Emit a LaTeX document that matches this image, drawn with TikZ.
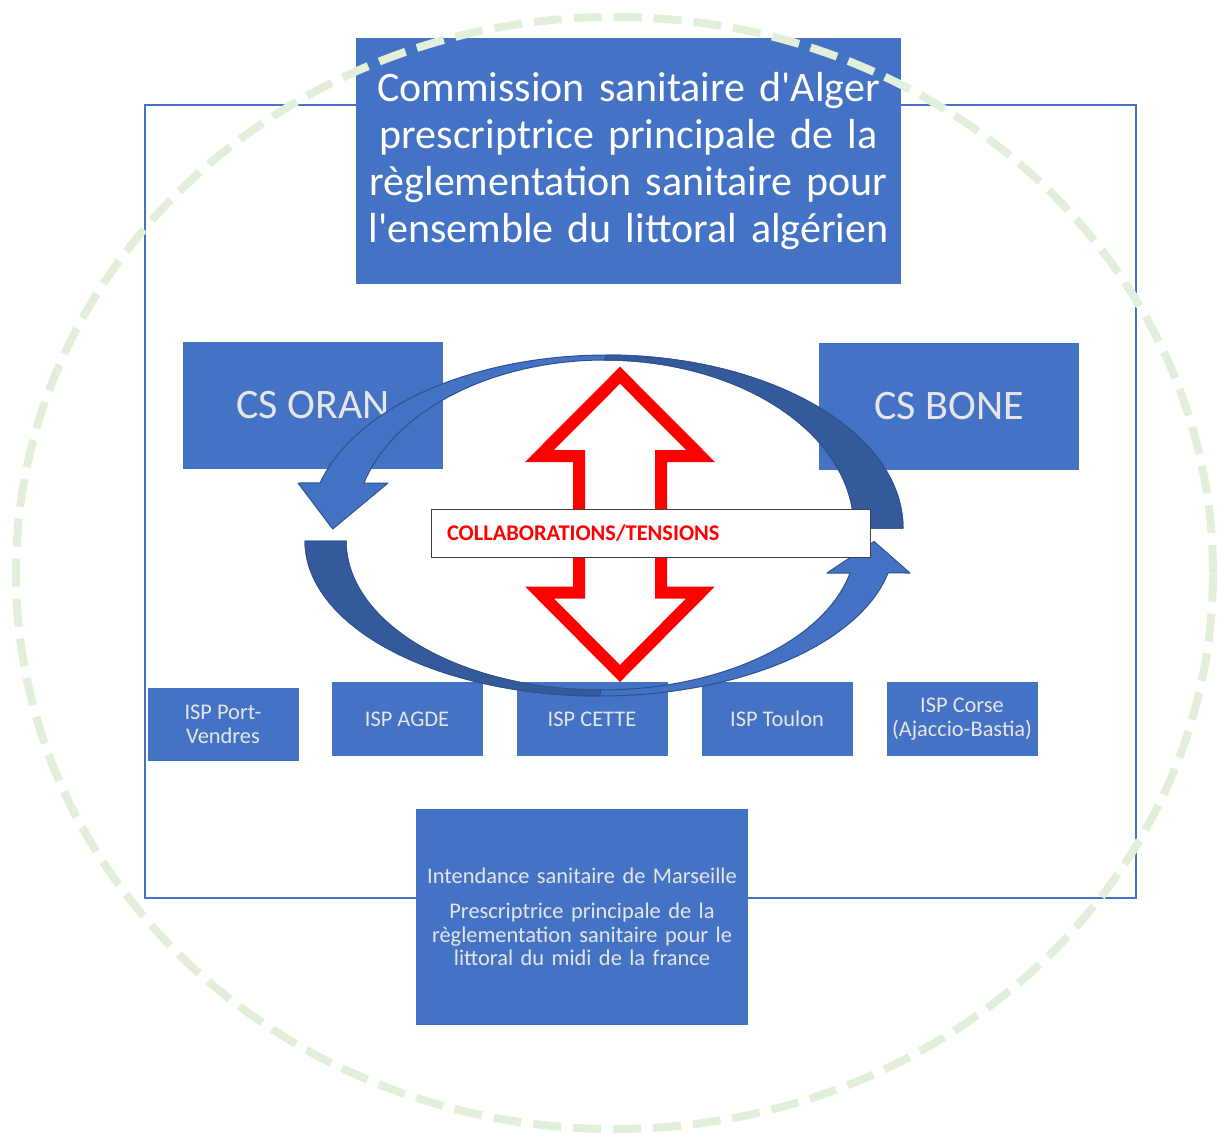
\documentclass[tikz,border=0pt]{standalone}
\usepackage{fontspec}
\setmainfont{Carlito}[Ligatures=TeXOff]
\definecolor{boxblue}{HTML}{4472C4}
\definecolor{darkblue}{HTML}{345A9B}
\definecolor{edgeblue}{HTML}{2F528F}
\definecolor{softgreen}{HTML}{E2EFDA}
\definecolor{palegray}{HTML}{E7E6E6}
\definecolor{framegray}{HTML}{404040}
\definecolor{alarmred}{HTML}{FF0000}
\begin{document}
\begin{tikzpicture}[x=1pt,y=-1pt,
  bluebox/.style={fill=boxblue, inner sep=0pt, align=center},
  ispbox/.style={bluebox, minimum width=151pt, minimum height=74pt, text=palegray, font=\fontsize{22.4}{24}\selectfont},
  csbox/.style={bluebox, minimum width=260pt, minimum height=127pt, text=palegray, font=\fontsize{42}{50}\selectfont},
  lightband/.style={fill=boxblue, draw=edgeblue, line width=1pt, line join=round},
  darkband/.style={fill=darkblue, draw=edgeblue, line width=1pt, line join=round},
  outerframe/.style={draw=boxblue, line width=1.6pt},
  dashring/.style={draw=softgreen, line width=8pt, dash pattern=on 28pt off 12pt},
  redoutline/.style={draw=alarmred, line width=12pt, line join=miter}
]
\useasboundingbox (0,0) rectangle (1220,1135);

% outer frame
\draw[outerframe] (145,105) rectangle (1136,898);

% top box
\node[bluebox, minimum width=545pt, minimum height=246pt, text=white, text width=540pt,
      font=\fontsize{42}{47}\selectfont] (alger) at (628.5,161)
  {Commission sanitaire d'Alger\\ prescriptrice principale de la\\ règlementation sanitaire pour\\ l'ensemble du littoral algérien};

% dashed ring
\draw[dashring] (614.5,573) ellipse [x radius=598.5pt, y radius=556pt];

% CS boxes
\node[csbox] (oran) at (313,405.5) {CS ORAN};
\node[csbox] (bone) at (949,406) {CS BONE};

% ISP boxes
\node[ispbox, minimum height=73pt] (portvendres) at (223,724) {ISP Port-\\Vendres};
\node[ispbox] (agde) at (407,719) {ISP AGDE};
\node[ispbox] (cette) at (592,719) {ISP CETTE};
\node[ispbox] (toulon) at (777,719) {ISP Toulon};
\node[ispbox] (corse) at (962,719) {ISP Corse\\(Ajaccio-Bastia)};

% Marseille box
\node[bluebox, minimum width=332pt, minimum height=216pt, text=palegray, text width=330pt,
      font=\fontsize{22.4}{23.5}\selectfont] (marseille) at (582,917)
  {Intendance sanitaire de Marseille\\[11.5pt] Prescriptrice principale de la\\ règlementation sanitaire pour le\\ littoral du midi de la france};

% top curved arrow (towards Oran side)
\path[lightband]
  plot[domain=195.1:360, samples=80, variable=\t] ({606.4+296.6*cos(\t)},{528+173*sin(\t)})
  -- plot[domain=0:164.5, samples=80, variable=\t] ({604.4+249.6*cos(360-\t)},{528+168*sin(360-\t)})
  -- (388,483) -- (332.7,529) -- (298,483) -- cycle;
\path[darkband]
  plot[domain=270:360, samples=50, variable=\t] ({606.4+296.6*cos(\t)},{528+173*sin(\t)})
  -- plot[domain=0:90, samples=50, variable=\t] ({604.4+249.6*cos(360-\t)},{528+168*sin(360-\t)})
  -- cycle;

% bottom curved arrow (towards Bone side)
\path[lightband]
  plot[domain=0:168.1, samples=80, variable=\t] ({599.7+294.7*cos(180-\t)},{541+155*sin(180-\t)})
  -- (910,573) -- (874,541.5) -- (827,573)
  -- plot[domain=12.4:180, samples=80, variable=\t] ({601+255*cos(\t)},{541+149*sin(\t)})
  -- cycle;
\path[darkband]
  plot[domain=0:90, samples=50, variable=\t] ({599.7+294.7*cos(180-\t)},{541+155*sin(180-\t)})
  -- plot[domain=90:180, samples=50, variable=\t] ({601+255*cos(\t)},{541+149*sin(\t)})
  -- cycle;

% red double arrow
\draw[redoutline] (620,375.2) -- (700.5,456) -- (661,456) -- (661,592.5) -- (700.5,592.5)
  -- (620,673.5) -- (539.5,592.5) -- (579,592.5) -- (579,456) -- (539.5,456) -- cycle;

% collaborations label
\node[draw=framegray, fill=white, line width=1pt, minimum width=439pt, minimum height=48pt,
      text width=407pt, inner xsep=16pt, inner ysep=0pt, align=left, text=alarmred,
      font=\fontsize{22.4}{27}\selectfont\bfseries] (collab) at (650.5,533) {COLLABORATIONS/TENSIONS};
\end{tikzpicture}
\end{document}
